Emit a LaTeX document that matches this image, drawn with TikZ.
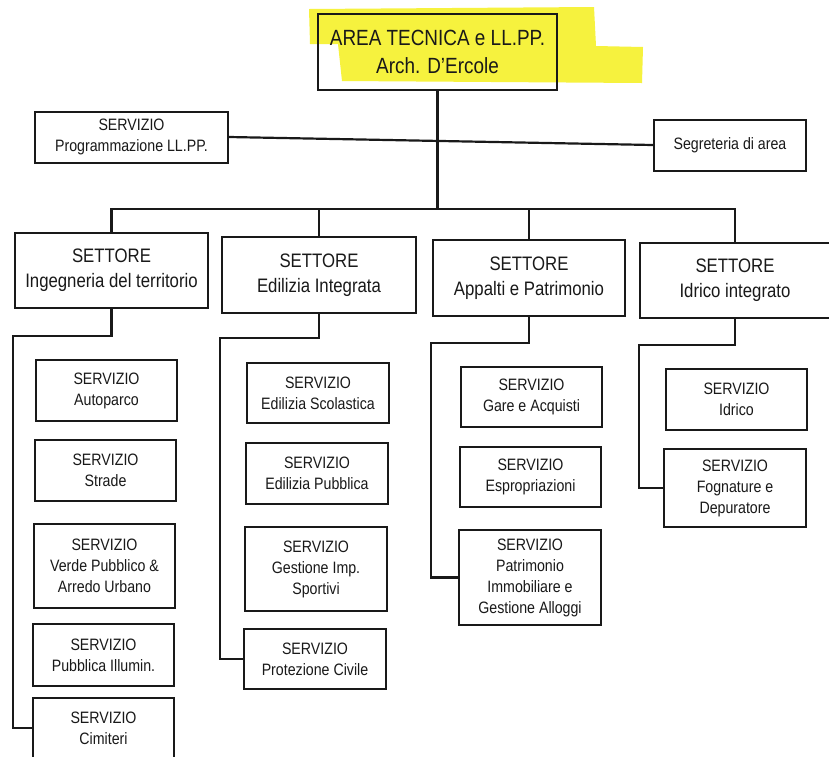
\documentclass[tikz,border=0pt]{standalone}
\usepackage{fontspec}
\setmainfont{Liberation Sans}[FakeStretch=0.86]
\definecolor{hl}{RGB}{246,242,62}
\definecolor{ink}{RGB}{25,25,25}
\begin{document}
\begin{tikzpicture}[x=1pt,y=-1pt,
  box/.style={draw=ink, line width=2pt, align=center, inner sep=0pt, text=ink,
    font=\fontsize{16.5}{21}\selectfont},
  sbox/.style={box, line width=2.5pt, font=\fontsize{19.5}{25}\selectfont},
  tbox/.style={box, line width=2.6pt, font=\fontsize{22}{28}\selectfont},
  small/.style={box},
  conn/.style={draw=ink, line width=2.2pt, line join=miter}]
\useasboundingbox (0,0) rectangle (829,756);
\fill[white] (0,0) rectangle (829,756);
% highlight
\fill[hl] (309,9) -- (594,7) -- (596,46) -- (643,47) -- (642,83) -- (342,81) -- (338,44) -- (310,44) -- cycle;
% top
\node[tbox, minimum width=239pt, minimum height=76pt] (top) at (437.5,52) {AREA TECNICA e LL.PP.\\Arch. D'Ercole};
\node[small, minimum width=193pt, minimum height=51pt] (prog) at (131.5,137) {SERVIZIO\\Programmazione LL.PP.};
\node[small, minimum width=152pt, minimum height=51pt] (segr) at (730,145) {Segreteria di area};
% settori
\node[sbox, minimum width=193pt, minimum height=75pt] (s1) at (111.5,270.5) {SETTORE\\Ingegneria del territorio};
\node[sbox, minimum width=194pt, minimum height=76pt] (s2) at (319,275) {SETTORE\\Edilizia Integrata};
\node[sbox, minimum width=192pt, minimum height=76pt] (s3) at (529,278) {SETTORE\\Appalti e Patrimonio};
\node[sbox, minimum width=190pt, minimum height=75pt] (s4) at (735,280.5) {SETTORE\\Idrico integrato};
% col 1
\node[box, minimum width=141pt, minimum height=61pt] (auto) at (106.5,390.5) {SERVIZIO\\Autoparco};
\node[box, minimum width=141pt, minimum height=61pt] (strade) at (105.5,470.5) {SERVIZIO\\Strade};
\node[box, minimum width=141pt, minimum height=84pt] (verde) at (104.5,566) {SERVIZIO\\Verde Pubblico \&\\Arredo Urbano};
\node[box, minimum width=141pt, minimum height=62pt] (illum) at (103.5,655) {SERVIZIO\\Pubblica Illumin.};
\node[box, minimum width=141pt, minimum height=60pt] (cim) at (103.5,728) {SERVIZIO\\Cimiteri};
% col 2
\node[box, minimum width=142pt, minimum height=60pt] (scol) at (318,393) {SERVIZIO\\Edilizia Scolastica};
\node[box, minimum width=142pt, minimum height=61pt] (pubb) at (317,473.5) {SERVIZIO\\Edilizia Pubblica};
\node[box, minimum width=142pt, minimum height=84pt] (sport) at (316,569) {SERVIZIO\\Gestione Imp.\\Sportivi};
\node[box, minimum width=142pt, minimum height=60pt] (civ) at (315,659) {SERVIZIO\\Protezione Civile};
% col 3
\node[box, minimum width=141pt, minimum height=60pt] (gare) at (531.5,397) {SERVIZIO\\Gare e Acquisti};
\node[box, minimum width=141pt, minimum height=60pt] (espr) at (530.5,477) {SERVIZIO\\Espropriazioni};
\node[box, minimum width=142pt, minimum height=95pt] (patr) at (530,577.5) {SERVIZIO\\Patrimonio\\Immobiliare e\\Gestione Alloggi};
% col 4
\node[box, minimum width=141pt, minimum height=61pt] (idr) at (736.5,399.5) {SERVIZIO\\Idrico};
\node[box, minimum width=142pt, minimum height=78pt] (fogn) at (735,488) {SERVIZIO\\Fognature e\\Depuratore};
% connectors
\coordinate (bus) at (437.5,209);
\draw[conn] (top.south) -- (bus);
\draw[conn] (prog.east) -- (segr.west);
\draw[conn] (s1.north) |- (bus) -| (s4.north);
\draw[conn] (s2.north) -- (s2.north |- bus);
\draw[conn] (s3.north) -- (s3.north |- bus);
\coordinate (k1) at (13,336);
\coordinate (k2) at (220,338);
\coordinate (k3) at (431,343);
\coordinate (k4) at (639,345);
\draw[conn] (s1.south) |- (k1) |- (cim.west);
\draw[conn] (s2.south) |- (k2) |- (civ.west);
\draw[conn] (s3.south) |- (k3) |- (patr.west);
\draw[conn] (s4.south) |- (k4) |- (fogn.west);
\end{tikzpicture}
\end{document}
